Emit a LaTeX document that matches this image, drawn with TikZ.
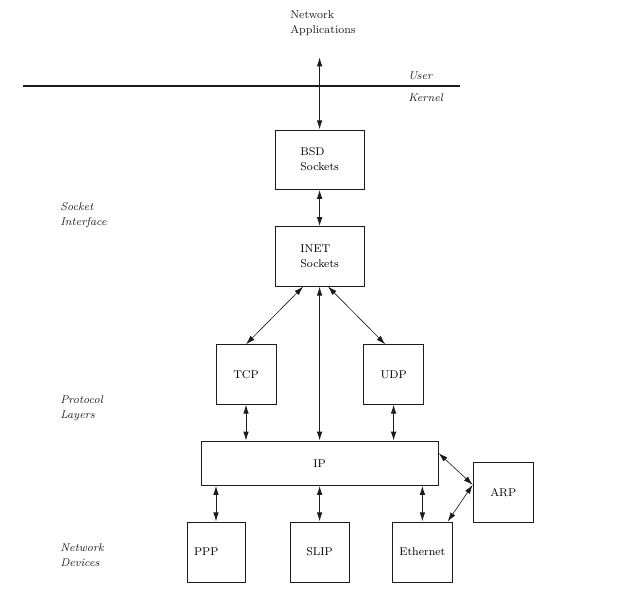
\documentclass[tikz,border=0pt]{standalone}
\usepackage{tikz}
\usetikzlibrary{arrows.meta, positioning}
\definecolor{inkgray}{HTML}{1C1C1C}
\newcommand{\lblfont}{\fontsize{8}{10.7}\selectfont}
\tikzstyle{txt}=[inner sep=0pt, font=\lblfont, text=inkgray, align=left]
\tikzstyle{side}=[txt, anchor=west, font=\lblfont\itshape]
\tikzstyle{blk}=[draw=inkgray, line width=0.7pt, inner sep=2pt, font=\lblfont, align=left, minimum width=1.5cm, minimum height=1.48cm]
\tikzstyle{dbl}=[{Latex[length=6.5pt,width=4pt]}-{Latex[length=6.5pt,width=4pt]}, line width=0.7pt, color=inkgray]
\tikzstyle{fine}=[dbl, line width=0.45pt]

\begin{document}
\begin{tikzpicture}
  \useasboundingbox (0,0) rectangle (16,-14.95);
  % user / kernel split
  \coordinate (ul) at (0.58,-2.15);
  \coordinate (ur) at (11.5,-2.15);
  \draw[line width=0.75pt, inkgray] (ul) -- (ur);
  \node[side] (user) at (10.2,-1.9) {User};
  \node[side] (kern) at (10.2,-2.45) {Kernel};
  \node[txt, anchor=west] (apps) at (7.25,-0.59) {Network\\Applications};
  \coordinate (top) at (7.99,-1.43);
  % side labels
  \node[side] (sock) at (1.5,-5.39) {Socket\\Interface};
  \node[side] (prot) at (1.5,-10.2) {Protocol\\Layers};
  \node[side] (devs) at (1.5,-13.89) {Network\\Devices};
  % socket layers
  \node[blk, minimum width=2.23cm] (bsd) at (7.99,-3.99) {BSD\\Sockets};
  \node[blk, minimum width=2.23cm] (inet) at (7.99,-6.41) {INET\\Sockets};
  % protocols
  \node[blk] (tcp) at (6.15,-9.36) {TCP};
  \node[blk] (udp) at (9.84,-9.36) {UDP};
  \node[blk, minimum width=5.93cm, minimum height=1.1cm] (ip) at (7.99,-11.58) {IP};
  \node[blk] (arp) at (12.58,-12.31) {ARP};
  % devices
  \node[blk, minimum width=1.45cm, minimum height=1.5cm, text width=1.1cm] (ppp) at (5.4,-13.8) {PPP};
  \node[blk, minimum width=1.48cm, minimum height=1.5cm] (slip) at (7.99,-13.8) {SLIP};
  \node[blk, minimum width=1.48cm, minimum height=1.5cm] (eth) at (10.56,-13.8) {Ethernet};
  % links
  \draw[dbl] (top) -- (bsd.north);
  \draw[dbl] (bsd) -- (inet);
  \draw[fine] ([xshift=-0.41cm]inet.south) -- (tcp.north);
  \draw[fine] ([xshift=0.21cm]inet.south) -- ([xshift=-0.21cm]udp.north);
  \draw[dbl] (inet.south) -- (ip.north);
  \draw[dbl] (tcp.south) -- (tcp.south |- ip.north);
  \draw[dbl] (udp.south) -- (udp.south |- ip.north);
  \foreach \d in {ppp,slip,eth}
    \draw[dbl] (\d.north |- ip.south) -- (\d.north);
  \draw[fine] ([yshift=0.25cm]ip.east) -- ([yshift=0.19cm]arp.west);
  \draw[fine] ([xshift=-0.12cm]eth.north east) -- ([yshift=0.19cm]arp.west);
\end{tikzpicture}
\end{document}
